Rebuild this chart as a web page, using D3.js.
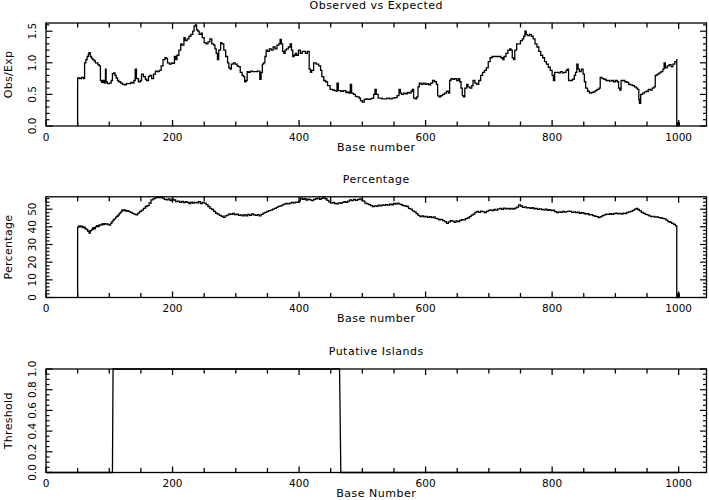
<!DOCTYPE html>
<html>
<head>
<meta charset="utf-8">
<script src="https://cdn.jsdelivr.net/npm/d3@7"></script>
<style>
  html, body { margin: 0; padding: 0; background: #fff; }
  svg { display: block; }
  text { font-family: "DejaVu Sans", sans-serif; fill: #000; }
</style>
</head>
<body>
<svg id="chart" width="709" height="500"></svg>
<script>
// ---------------- data ----------------
const obsBase = [50,50,53,56,59,61,63,65,67,68,70,72,74,76,78,80,82,84,86,88,90,92,94,95,97,100,103,105,107,109,111,113,115,118,121,124,127,130,134,137,139,141,143,146,149,151,154,157,159,162,164,167,170,173,176,179,182,185,188,190,192,195,198,200,203,205,207,210,213,215,218,220,223,226,229,232,234,236,238,240,242,245,247,250,253,256,259,262,265,267,269,271,273,276,278,281,284,287,289,291,293,296,299,302,304,307,310,312,314,316,318,320,323,326,330,334,337,338,340,342,344,346,348,350,353,356,359,362,365,368,370,372,374,376,378,380,383,386,388,390,392,394,396,399,402,405,410,413,416,418,420,423,427,431,434,436,439,442,445,449,453,456,459,460,462,466,470,474,477,479,481,483,486,489,492,495,497,500,503,506,509,512,515,518,520,522,525,528,531,535,539,543,547,551,555,558,560,562,565,568,571,574,577,579,581,584,586,588,590,593,596,599,602,605,608,611,614,617,619,621,624,627,630,633,636,638,640,643,646,649,652,654,656,658,660,662,665,667,670,673,675,678,681,684,687,690,693,696,699,702,705,708,712,716,719,722,724,727,730,733,735,737,739,741,744,747,750,753,755,757,759,761,764,767,770,773,776,779,782,785,788,791,794,797,800,802,804,807,810,813,816,819,822,824,826,829,832,835,837,839,841,843,846,849,851,853,856,859,862,865,868,871,874,876,879,882,885,888,891,894,897,900,903,905,907,909,912,915,918,921,924,927,930,933,935,937,938,940,943,946,949,952,955,958,961,963,966,969,972,975,977,979,982,985,988,991,994,997,997,999,999,1001,1001];
const obsValue = [0,0.76,0.75,0.77,0.75,1.0,1.05,1.1,1.14,1.16,1.1,1.07,1.05,1.03,1.0,1.0,0.97,0.95,0.72,0.69,0.72,0.68,0.9,0.7,0.67,0.68,0.72,0.83,0.84,0.8,0.76,0.72,0.7,0.68,0.66,0.65,0.67,0.67,0.69,0.68,0.72,0.9,0.75,0.7,0.72,0.82,0.78,0.74,0.72,0.78,0.8,0.75,0.82,0.87,0.86,0.88,0.95,1.05,1.08,1.07,1.0,0.98,1.0,0.99,1.1,1.05,1.12,1.2,1.3,1.28,1.4,1.35,1.38,1.42,1.45,1.5,1.58,1.6,1.52,1.5,1.45,1.47,1.4,1.32,1.3,1.33,1.38,1.3,1.28,1.22,1.15,1.05,1.2,1.32,1.3,1.2,1.1,1.0,0.92,0.9,0.98,1.0,0.98,0.95,0.94,0.85,0.8,0.78,0.7,0.72,0.86,0.85,0.87,0.86,0.86,0.87,0.87,0.74,0.85,0.98,1.0,1.1,1.2,1.18,1.22,1.2,1.25,1.22,1.28,1.3,1.37,1.3,1.18,1.15,1.2,1.22,1.25,1.3,1.2,1.1,1.12,1.15,1.12,1.2,1.15,1.18,1.15,1.18,0.9,0.85,0.88,1.0,0.98,0.95,0.88,0.78,0.72,0.7,0.64,0.58,0.57,0.56,0.55,0.68,0.56,0.55,0.56,0.53,0.54,0.52,0.66,0.52,0.5,0.47,0.46,0.44,0.4,0.38,0.42,0.43,0.42,0.43,0.44,0.5,0.58,0.5,0.44,0.44,0.43,0.43,0.44,0.43,0.44,0.45,0.48,0.58,0.52,0.5,0.52,0.51,0.53,0.52,0.55,0.58,0.44,0.43,0.46,0.62,0.68,0.66,0.68,0.66,0.67,0.65,0.68,0.72,0.7,0.66,0.48,0.46,0.48,0.5,0.52,0.55,0.52,0.72,0.75,0.74,0.75,0.72,0.75,0.7,0.6,0.48,0.46,0.6,0.66,0.62,0.6,0.64,0.72,0.68,0.66,0.72,0.8,0.85,0.88,0.92,1.02,1.08,1.1,1.1,1.1,1.1,1.08,1.05,1.1,1.15,1.2,1.22,1.2,1.08,1.05,1.2,1.3,1.3,1.35,1.38,1.42,1.5,1.45,1.43,1.45,1.42,1.38,1.3,1.25,1.18,1.12,1.08,1.02,0.98,0.93,0.88,0.8,0.72,0.85,0.85,0.84,0.86,0.84,0.85,0.88,0.9,0.72,0.72,0.74,0.8,0.85,0.98,0.9,0.86,0.9,0.82,0.7,0.6,0.55,0.52,0.53,0.54,0.56,0.58,0.6,0.77,0.75,0.74,0.72,0.72,0.71,0.72,0.7,0.72,0.7,0.6,0.57,0.72,0.72,0.7,0.69,0.66,0.65,0.64,0.62,0.6,0.58,0.42,0.36,0.5,0.52,0.54,0.55,0.58,0.57,0.6,0.62,0.8,0.82,0.84,0.86,0.9,1.0,0.92,0.95,0.97,0.94,0.98,1.02,1.06,0,0,0.05,0.05,0];

const pctBase = [50,50,52,54,56,58,60,62,64,66,68,70,72,74,76,78,80,82,84,86,88,90,92,94,96,98,100,102,104,106,108,110,112,114,116,118,120,122,124,126,128,130,133,136,139,142,145,148,151,154,157,160,163,166,169,172,175,178,181,184,187,190,193,196,199,202,205,208,211,214,217,220,223,226,229,232,235,238,241,244,247,250,253,256,259,262,265,268,271,274,277,280,283,286,289,292,295,298,301,304,307,310,313,316,319,322,325,328,331,334,337,340,343,346,349,352,355,358,361,364,367,370,373,376,379,382,385,388,391,394,397,400,402,405,408,411,414,417,420,423,426,429,432,435,438,441,444,447,450,453,456,459,462,465,468,471,474,477,480,483,486,489,492,495,498,501,504,507,510,513,516,519,522,525,528,531,534,537,540,543,546,549,552,555,558,561,564,567,570,573,576,579,582,585,588,591,594,597,600,603,606,609,612,615,618,621,624,627,630,633,636,639,642,645,648,651,654,657,660,663,666,669,672,675,678,681,684,687,690,693,696,699,702,705,708,711,714,717,720,723,726,729,732,735,738,741,744,747,750,753,756,759,762,765,768,771,774,777,780,783,786,789,792,795,798,801,804,807,810,813,816,819,822,825,828,831,834,837,840,843,846,849,852,855,858,861,864,867,870,873,876,879,882,885,888,891,894,897,900,903,906,909,912,915,918,921,924,927,930,933,935,938,941,944,947,950,953,956,959,962,965,968,971,974,977,980,983,986,989,992,995,997,997,999,999,1001,1001];
const pctValue = [0,39.8,40.5,40,40.4,39.6,39.8,38.8,38.5,37.5,36.4,37.8,38.5,39.5,38.8,40,40.6,40.2,41.1,41,41.6,41.2,41.8,41.5,41.7,41.2,41,42,43,43.9,44.5,45.5,46,46.8,47.7,48.5,49.6,49.2,49.6,48.9,49.2,48.7,48.2,47.6,47.2,46.8,47.8,48.7,49.5,50.5,51.5,52,53.5,55.3,55.8,56.4,56.9,56.5,56.8,56.2,55.5,55.3,55.8,54.9,55.6,55.2,54.3,54.6,53.8,54.4,53.7,54.2,53.8,53.2,54,53.5,53.9,53.6,54.3,53.2,53.8,53.4,52.6,51.5,50.5,49.8,48.8,47.7,47.2,46.5,46,45.4,46.2,46.6,47.3,47,47.6,46.9,47.2,46.5,46.8,46.2,46.9,46.2,47,46.5,47.3,46.8,46.5,46.9,46.2,47,47.8,48.2,48.7,49.2,49.5,50,50.4,51,51.6,51.9,52.4,52.9,53.2,53,53.4,53.8,53.6,54,53.8,54.6,56.2,55.6,55.9,55.2,55.6,55.3,54.8,55.5,55.9,56.2,55.6,56.1,56.8,55.9,55,54.2,53.4,53.8,53.2,53,53.6,53.3,53.9,54.2,53.8,54.5,55.3,54.8,55.5,55,55.4,55.8,55.3,54.6,53.4,53,52.6,52,51.5,51.9,51.6,52.3,51.9,52.4,52.1,52.6,52.3,52.9,52.5,53.2,52.9,53.4,52.8,52.5,52,51.8,51.5,50.5,50,49,48.5,47.5,46.5,45.8,46.2,45.6,45.9,45.3,45.7,45.2,45.6,44.8,44.5,43.9,44.2,43.5,43,42,42.8,43.5,43.2,42.5,43.4,43,43.6,44,43.9,44.6,45,45.8,46.6,47.2,48.2,48.7,48.2,48.9,48.6,48.1,48.8,49.3,49.6,49.2,49.8,49.5,50.2,50.5,49.9,50.6,50.2,50.5,50,50.4,50.1,50.6,51.2,52.4,51.8,51,51.3,50.7,50.9,50.5,50.8,50.2,50.5,49.9,50.2,49.8,49.6,50,49.4,49.7,49.2,49.5,48.6,48.1,48.5,48.2,48.8,48.3,48.6,48.9,48.7,48.2,48.5,48,48.3,47.6,48,47.7,47.2,47.5,46.8,46.9,46.3,46,45.8,45.2,45.8,46.3,46.8,47.2,47,47.4,47.1,47.5,47.7,47.3,47.6,47.2,47.8,47.5,48.2,48.5,48.7,49.3,50,50.5,49.8,49,48.2,47.6,47,46.8,46.2,45.8,45.9,45.5,45.6,45.2,45,44.8,44.5,43.8,43,42.6,42,41.4,40.5,39.8,0,0,2,2,0];

const islandBase = [1,105,106,464,466,1000];
const islandValue = [0,0,1,1,0,0];

const panelTitles = ["Observed vs Expected", "Percentage", "Putative Islands"];
const yAxisTitles = ["Obs/Exp", "Percentage", "Threshold"];
const xAxisTitles = ["Base number", "Base number", "Base Number"];
const xTickLabels = [0, 200, 400, 600, 800, 1000];
const yTickLabels1 = ["0.0", "0.5", "1.0", "1.5"];
const yTickLabels2 = ["0", "10", "20", "30", "40", "50"];
const yTickLabels3 = ["0.0", "0.2", "0.4", "0.6", "0.8", "1.0"];

// ---------------- layout ----------------
const svg = d3.select("#chart");
const left = 46, right = 706.5;
const x = d3.scaleLinear().domain([0, 1044]).range([left, right]);

const panels = [
  { top: 23, bottom: 126, ymax: 1.63, major: 0.5, minor: 0.1, labels: yTickLabels1,
    base: obsBase, value: obsValue, curve: d3.curveStepAfter },
  { top: 196.8, bottom: 297.5, ymax: 57, major: 10, minor: 2, labels: yTickLabels2,
    base: pctBase, value: pctValue, curve: d3.curveStepAfter },
  { top: 369, bottom: 472.5, ymax: 1.0, major: 0.2, minor: 0.05, labels: yTickLabels3,
    base: islandBase, value: islandValue, curve: d3.curveLinear }
];

panels.forEach((p, i) => {
  const y = d3.scaleLinear().domain([0, p.ymax]).range([p.bottom, p.top]);
  const g = svg.append("g");

  // data line
  const pts = p.base.map((b, k) => [b, p.value[k]]);
  g.append("path")
    .datum(pts)
    .attr("fill", "none")
    .attr("stroke", "#000")
    .attr("stroke-width", 1.3)
    .attr("d", d3.line().curve(p.curve).x(d => x(d[0])).y(d => y(d[1])));

  // frame
  g.append("rect")
    .attr("x", left).attr("y", p.top)
    .attr("width", right - left).attr("height", p.bottom - p.top)
    .attr("fill", "none").attr("stroke", "#000").attr("stroke-width", 1.3);

  // x ticks (top & bottom, inward)
  const xt = d3.range(0, 1001, 50);
  xt.forEach(v => {
    const len = (v % 200 === 0) ? 6 : 4.5;
    g.append("line").attr("x1", x(v)).attr("x2", x(v))
      .attr("y1", p.bottom).attr("y2", p.bottom - len)
      .attr("stroke", "#000").attr("stroke-width", 1.3);
    g.append("line").attr("x1", x(v)).attr("x2", x(v))
      .attr("y1", p.top).attr("y2", p.top + len)
      .attr("stroke", "#000").attr("stroke-width", 1.3);
  });

  // y ticks (left & right, inward)
  const nMinor = Math.floor(p.ymax / p.minor + 1e-6);
  for (let k = 0; k <= nMinor; k++) {
    const v = k * p.minor;
    const isMajor = Math.abs(v / p.major - Math.round(v / p.major)) < 1e-6;
    const len = isMajor ? 6.5 : 3.5;
    g.append("line").attr("x1", left).attr("x2", left + len)
      .attr("y1", y(v)).attr("y2", y(v))
      .attr("stroke", "#000").attr("stroke-width", 1.2);
    g.append("line").attr("x1", right).attr("x2", right - len)
      .attr("y1", y(v)).attr("y2", y(v))
      .attr("stroke", "#000").attr("stroke-width", 1.2);
  }

  // x tick labels
  g.selectAll("text.xl").data(xTickLabels).enter().append("text")
    .attr("x", d => x(d)).attr("y", p.bottom + 14.5)
    .attr("text-anchor", "middle")
    .attr("font-size", "10.5px")
    .text(d => d);

  // y tick labels (rotated)
  p.labels.forEach(lbl => {
    g.append("text")
      .attr("transform", `translate(36,${y(+lbl)}) rotate(-90)`)
      .attr("text-anchor", "middle")
      .attr("font-size", "10.5px")
      .text(lbl);
  });

  // titles
  g.append("text")
    .attr("x", (left + right) / 2).attr("y", p.top - 14)
    .attr("text-anchor", "middle")
    .attr("font-size", "11px").attr("letter-spacing", "0.5px")
    .text(panelTitles[i]);
  g.append("text")
    .attr("x", (left + right) / 2).attr("y", p.bottom + 24.5)
    .attr("text-anchor", "middle")
    .attr("font-size", "11px").attr("letter-spacing", "0.5px")
    .text(xAxisTitles[i]);
  g.append("text")
    .attr("transform", `translate(12,${(p.top + p.bottom) / 2}) rotate(-90)`)
    .attr("text-anchor", "middle")
    .attr("font-size", "11px").attr("letter-spacing", "0.3px")
    .text(yAxisTitles[i]);
});
</script>
</body>
</html>
